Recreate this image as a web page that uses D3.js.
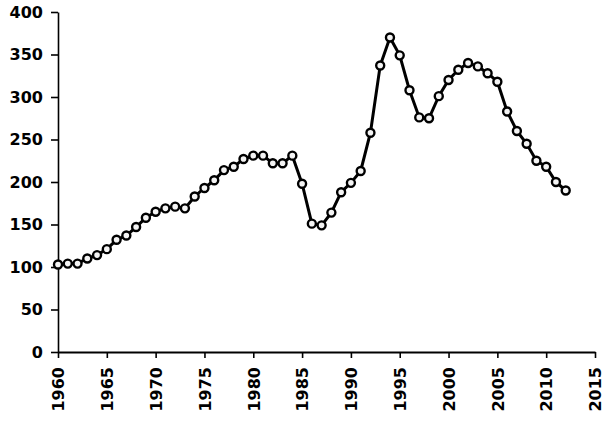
<!DOCTYPE html>
<html>
<head>
<meta charset="utf-8">
<script src="https://cdn.jsdelivr.net/npm/d3@7"></script>
<style>
  body { margin: 0; background: #fff; }
  svg text { font-family: "DejaVu Sans", sans-serif; font-weight: bold; font-size: 16px; fill: #000; }
</style>
</head>
<body>
<script>
const years = d3.range(1960, 2013);
const values = [103, 104, 104, 110, 114, 121, 132, 137, 147, 158,
                165, 169, 171, 169, 183, 193, 202, 214, 218, 227,
                231, 231, 222, 222, 231, 198, 151, 149, 164, 188,
                199, 213, 258, 337, 370, 349, 308, 276, 275, 301,
                320, 332, 340, 336, 328, 318, 283, 260, 245, 225,
                218, 200, 190];
const xTicks = d3.range(1960, 2016, 5);
const yTicks = [0, 50, 100, 150, 200, 250, 300, 350, 400];

const width = 611, height = 422;
const margin = {left: 58, right: 16, top: 12, bottom: 70};

const svg = d3.select("body").append("svg")
    .attr("width", width)
    .attr("height", height);

const xScale = d3.scaleLinear()
    .domain([1960, 2015])
    .range([margin.left, width - margin.right]);

const yScale = d3.scaleLinear()
    .domain([0, 400])
    .range([height - margin.bottom, margin.top]);

const data = years.map((y, i) => ({year: y, value: values[i]}));

// axes
const yAxis = d3.axisLeft(yScale).tickValues(yTicks).tickSize(7).tickPadding(8).tickSizeOuter(0);
const xAxis = d3.axisBottom(xScale).tickValues(xTicks).tickSize(6).tickFormat(d3.format("d")).tickSizeOuter(0);

const gy = svg.append("g")
    .attr("transform", "translate(" + margin.left + ",0)")
    .call(yAxis);

const gx = svg.append("g")
    .attr("transform", "translate(0," + (height - margin.bottom) + ")")
    .call(xAxis);

gx.selectAll("text")
    .attr("transform", "rotate(-90)")
    .attr("text-anchor", "end")
    .attr("dy", "0.36em")
    .attr("x", -15)
    .attr("y", 0);

svg.selectAll(".domain").attr("stroke", "#000").attr("stroke-width", 1.6);
gx.select(".domain").attr("stroke-width", 2.2);
svg.selectAll(".tick line").attr("stroke", "#000").attr("stroke-width", 1.6);

// line
const line = d3.line()
    .x(d => xScale(d.year))
    .y(d => yScale(d.value));

svg.append("path")
    .datum(data)
    .attr("fill", "none")
    .attr("stroke", "#000")
    .attr("stroke-width", 3)
    .attr("d", line);

svg.selectAll("circle")
    .data(data)
    .enter()
    .append("circle")
    .attr("cx", d => xScale(d.year))
    .attr("cy", d => yScale(d.value))
    .attr("r", 4)
    .attr("fill", "#f4f4f4")
    .attr("stroke", "#000")
    .attr("stroke-width", 2.4);
</script>
</body>
</html>
